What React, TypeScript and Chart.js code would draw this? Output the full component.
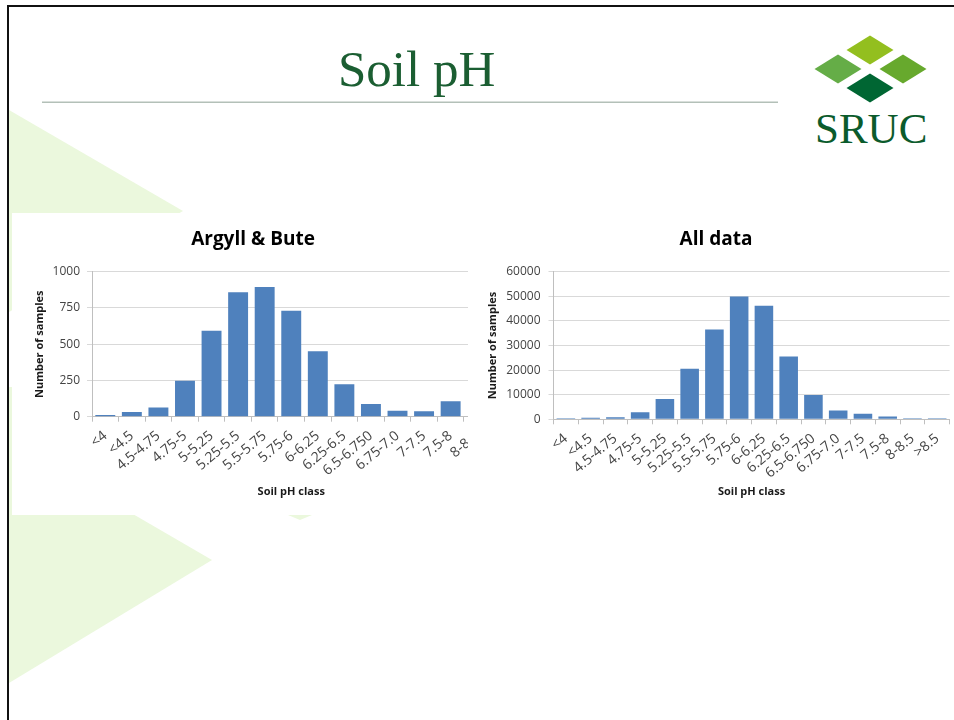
import React, { useEffect, useRef } from "react";
import { Chart, registerables } from "chart.js";

Chart.register(...registerables);

// ---- Data ----
const argyllCategories = [
  "<4", "<4.5", "4.5-4.75", "4.75-5", "5-5.25", "5.25-5.5", "5.5-5.75", "5.75-6",
  "6-6.25", "6.25-6.5", "6.5-6.750", "6.75-7.0", "7-7.5", "7.5-8", "8-8.5",
];
const argyllValues: (number | null)[] = [11, 32, 64, 248, 593, 858, 895, 730, 451, 223, 87, 41, 37, 106, null];
const argyllTicks = [0, 250, 500, 750, 1000];

const allCategories = [
  "<4", "<4.5", "4.5-4.75", "4.75-5", "5-5.25", "5.25-5.5", "5.5-5.75", "5.75-6",
  "6-6.25", "6.25-6.5", "6.5-6.750", "6.75-7.0", "7-7.5", "7.5-8", "8-8.5", ">8.5",
];
const allValues = [400, 600, 850, 2850, 8300, 20500, 36500, 49900, 46200, 25500, 9900, 3600, 2300, 1100, 400, 400];
const allTicks = [0, 10000, 20000, 30000, 40000, 50000, 60000];

const FONT = "'Open Sans', 'DejaVu Sans', sans-serif";
const BAR = "#4f81bd";
const GRID = "#d9d9d9";
const AXIS = "#bfbfbf";
const TICK_TXT = "#444444";

type Spec = {
  title: string;
  categories: string[];
  values: (number | null)[];
  ticks: number[];
  width: number;
  height: number;
  yWidth: number;
  xHeight: number;
  yTitlePad: number;
  yTickPad: number;
};

function makeConfig(s: Spec): any {
  const max = s.ticks[s.ticks.length - 1];
  return {
    type: "bar",
    data: {
      labels: s.categories,
      datasets: [
        {
          data: s.values,
          backgroundColor: BAR,
          borderWidth: 0,
          barPercentage: 0.75,
          categoryPercentage: 1.0,
        },
      ],
    },
    options: {
      responsive: false,
      maintainAspectRatio: false,
      animation: false,
      layout: { padding: { left: 0, right: 0, top: 0, bottom: 0 } },
      plugins: {
        legend: { display: false },
        tooltip: { enabled: false },
        title: {
          display: true,
          text: s.title,
          color: "#000000",
          font: { family: FONT, size: 19, weight: "bold" },
          padding: { top: 15.6, bottom: 20.3 },
        },
      },
      scales: {
        x: {
          type: "category",
          afterFit: (scale: any) => {
            scale.height = s.xHeight;
          },
          grid: {
            offset: true,
            drawOnChartArea: false,
            drawTicks: true,
            tickLength: 5,
            color: AXIS,
          },
          border: { display: true, color: AXIS },
          ticks: {
            autoSkip: false,
            maxRotation: 40,
            minRotation: 40,
            padding: 6,
            color: TICK_TXT,
            font: { family: FONT, size: 14 },
          },
          title: {
            display: true,
            text: "Soil pH class",
            color: "#1a1a1a",
            font: { family: FONT, size: 11, weight: "bold" },
            padding: { top: 0, bottom: 16.4 },
          },
        },
        y: {
          min: 0,
          max: max,
          afterFit: (scale: any) => {
            scale.width = s.yWidth;
          },
          afterBuildTicks: (scale: any) => {
            scale.ticks = s.ticks.map((v) => ({ value: v }));
          },
          grid: {
            color: GRID,
            tickLength: 5,
            drawTicks: true,
          },
          border: { display: true, color: AXIS },
          ticks: {
            padding: s.yTickPad,
            color: TICK_TXT,
            font: { family: FONT, size: 12 },
            callback: (v: any) => String(v),
          },
          title: {
            display: true,
            text: "Number of samples",
            color: "#1a1a1a",
            font: { family: FONT, size: 11, weight: "bold" },
            padding: { top: s.yTitlePad, bottom: 0 },
          },
        },
      },
    },
  };
}

function BarChart({ spec, left, top, clipWidth }: { spec: Spec; left: number; top: number; clipWidth: number }) {
  const ref = useRef<HTMLCanvasElement | null>(null);
  useEffect(() => {
    if (!ref.current) return;
    const chart = new Chart(ref.current, makeConfig(spec));
    return () => chart.destroy();
  }, []);
  return (
    <div
      style={{
        position: "absolute",
        left,
        top,
        width: clipWidth,
        height: spec.height,
        overflow: "hidden",
        background: "#ffffff",
      }}
    >
      <canvas
        ref={ref}
        width={spec.width}
        height={spec.height}
        style={{ position: "absolute", left: 0, top: 0, width: spec.width, height: spec.height }}
      />
    </div>
  );
}

const leftSpec: Spec = {
  title: "Argyll & Bute",
  categories: argyllCategories,
  values: argyllValues,
  ticks: argyllTicks,
  width: 482,
  height: 302,
  yWidth: 80,
  xHeight: 98.3,
  yTitlePad: 21.4,
  yTickPad: 7,
};

const rightSpec: Spec = {
  title: "All data",
  categories: allCategories,
  values: allValues,
  ticks: allTicks,
  width: 476,
  height: 302,
  yWidth: 75.5,
  xHeight: 95.7,
  yTitlePad: 8.4,
  yTickPad: 8,
};

const PALE = "#ebf8dd";

export default function App() {
  return (
    <div style={{ position: "fixed", left: 0, top: 0, width: 954, height: 720, background: "#ffffff", overflow: "hidden" }}>
      <svg width={954} height={720} style={{ position: "absolute", left: 0, top: 0 }}>
        {/* background pale triangles */}
        <polygon points="9,110 183,211 9,312" fill={PALE} />
        <polygon points="9,442 212,560 9,683" fill={PALE} />
        <rect x={9} y={387} width={4} height={130} fill={PALE} />
        <polygon points="288,515 312,515 300,520" fill={PALE} />
        {/* frame */}
        <rect x={7} y={5} width={947} height={2} fill="#111111" />
        <rect x={7} y={5} width={2} height={715} fill="#111111" />
        {/* rule */}
        <rect x={42} y={101.5} width={736} height={1.5} fill="#b3c0b8" />
        {/* logo diamonds */}
        <polygon points="870,35.5 893.5,50 870,64.5 846.5,50" fill="#93bf1f" />
        <polygon points="838,54.5 861.5,69 838,83.5 814.5,69" fill="#65ad47" />
        <polygon points="903,54.5 926.5,69 903,83.5 879.5,69" fill="#67a92d" />
        <polygon points="870,73.5 893.5,88 870,102.5 846.5,88" fill="#006633" />
        <text x={815} y={143} fontFamily="'Liberation Serif', serif" fontSize={43} fill="#0b5b2c">
          SRUC
        </text>
        <text x={338} y={86} fontFamily="'Liberation Serif', serif" fontSize={51} fill="#1b5e32">
          Soil pH
        </text>
      </svg>
      <BarChart spec={leftSpec} left={12} top={213} clipWidth={456} />
      <BarChart spec={rightSpec} left={478} top={213} clipWidth={472} />
    </div>
  );
}
